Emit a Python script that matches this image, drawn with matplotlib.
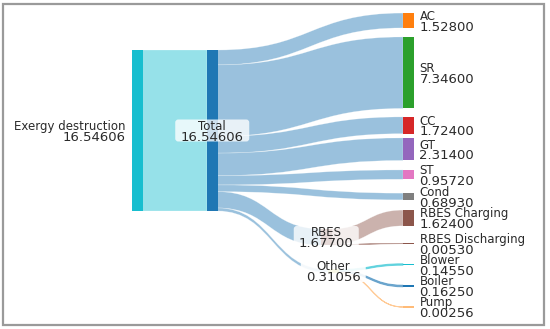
import matplotlib
matplotlib.use("Agg")
import matplotlib.pyplot as plt
from matplotlib.path import Path
from matplotlib.patches import PathPatch, Rectangle, FancyBboxPatch

# ---------------- data ----------------
node_names = ["Exergy destruction", "Total", "AC", "SR", "CC", "GT", "ST", "Cond",
              "RBES Charging", "RBES Discharging", "Blower", "Boiler", "Pump",
              "RBES", "Other"]
node_values = [16.54606, 16.54606, 1.528, 7.346, 1.724, 2.314, 0.9572, 0.6893,
               1.624, 0.0053, 0.1455, 0.1625, 0.00256, 1.677, 0.31056]
node_colors = ["#17becf", "#1f77b4", "#ff7f0e", "#2ca02c", "#d62728", "#9467bd",
               "#e377c2", "#7f7f7f", "#8c564b", "#8c564b", "#17becf", "#1f77b4",
               "#ffbb78", "#8c564b", "#bcbd22"]

link_source = ["Exergy destruction", "Total", "Total", "Total", "Total", "Total",
               "Total", "Total", "Total", "RBES", "RBES", "Other", "Other", "Other"]
link_target = ["Total", "AC", "SR", "CC", "GT", "ST", "Cond", "RBES", "Other",
               "RBES Charging", "RBES Discharging", "Blower", "Boiler", "Pump"]
link_values = [16.54606, 1.528, 7.346, 1.724, 2.314, 0.9572, 0.6893, 1.677, 0.31056,
               1.624, 0.0053, 0.1455, 0.1625, 0.00256]
link_colors = ["#17becf", "#1f77b4", "#1f77b4", "#1f77b4", "#1f77b4", "#1f77b4",
               "#1f77b4", "#1f77b4", "#1f77b4", "#8c564b", "#8c564b", "#17becf",
               "#1f77b4", "#ffa040"]

# ---------------- layout (pixel-like canvas) ----------------
W, H = 550, 329
node_x = [132, 207, 403, 403, 403, 403, 403, 403, 403, 403, 403, 403, 403, 321, 328]
node_yc = [130.5, 130.5, 20.5, 72.7, 125.3, 149.2, 174.6, 196.5, 218.0, 243.5,
           264.5, 286.0, 307.0, 237.0, 271.0]
node_w = 10.5
scale = 161.0 / 16.54606  # px per unit

label_mode = ["left", "box", "right", "right", "right", "right", "right", "right",
              "right", "right", "right", "right", "right", "box", "box_clear"]

fig = plt.figure(figsize=(W / 100, H / 100), dpi=100)
ax = fig.add_axes([0, 0, 1, 1])
ax.set_xlim(0, W)
ax.set_ylim(H, 0)
ax.axis("off")

idx = {n: i for i, n in enumerate(node_names)}
tops = [node_yc[i] - node_values[i] * scale / 2 for i in range(len(node_names))]
out_off = [0.0] * len(node_names)
in_off = [0.0] * len(node_names)


def ribbon(x0, y0a, y0b, x1, y1a, y1b, color, alpha):
    xm = (x0 + x1) / 2
    verts = [(x0, y0a), (xm, y0a), (xm, y1a), (x1, y1a), (x1, y1b),
             (xm, y1b), (xm, y0b), (x0, y0b), (x0, y0a)]
    codes = [Path.MOVETO, Path.CURVE4, Path.CURVE4, Path.CURVE4, Path.LINETO,
             Path.CURVE4, Path.CURVE4, Path.CURVE4, Path.CLOSEPOLY]
    thin = abs(y0b - y0a) < 2.5
    if thin:
        patch = PathPatch(Path(verts, codes), facecolor=color, alpha=alpha,
                          edgecolor=color, lw=0.7, zorder=1)
    else:
        patch = PathPatch(Path(verts, codes), facecolor=color, alpha=alpha,
                          edgecolor="white", lw=0.35, zorder=1)
    ax.add_patch(patch)


for s, t, v, c in zip(link_source, link_target, link_values, link_colors):
    si, ti = idx[s], idx[t]
    h = v * scale
    y0a = tops[si] + out_off[si]
    y1a = tops[ti] + in_off[ti]
    out_off[si] += h
    in_off[ti] += h
    a = 0.45 if h > 2.5 else 0.55
    ribbon(node_x[si] + node_w, y0a, y0a + h, node_x[ti], y1a, y1a + h, c, a)

# nodes
for i, n in enumerate(node_names):
    h = max(node_values[i] * scale, 1.2)
    ax.add_patch(Rectangle((node_x[i], node_yc[i] - h / 2), node_w, h,
                           facecolor=node_colors[i], edgecolor="none", zorder=2))

# labels
txt_col = "#2a2a2a"
fs_name, fs_val = 8.5, 9.5
px = 100 / 72.0


def two_line(x, yc, name, val, ha):
    cap_n = 0.73 * fs_name * px
    cap_v = 0.73 * fs_val * px
    ax.text(x, yc - 5.0 + cap_n / 2, name, ha=ha, va="baseline", fontsize=fs_name,
            color=txt_col, family="DejaVu Sans", zorder=5)
    ax.text(x, yc + 5.3 + cap_v / 2, val, ha=ha, va="baseline", fontsize=fs_val,
            color=txt_col, family="DejaVu Sans", zorder=5)


for i, n in enumerate(node_names):
    val = f"{node_values[i]:.5f}"
    yc = node_yc[i]
    mode = label_mode[i]
    if mode == "left":
        two_line(node_x[i] - 6, yc, n, val, "right")
    elif mode == "right":
        two_line(node_x[i] + node_w + 6, yc, n, val, "left")
    else:
        cx = node_x[i] + node_w / 2
        bw = 74 if node_values[i] >= 10 else 65
        bh = 22
        face = (1, 1, 1, 0.78) if mode == "box" else (1, 1, 1, 0.9)
        ax.add_patch(FancyBboxPatch((cx - bw / 2 + 3, yc - bh / 2 + 3), bw - 6, bh - 6,
                                    boxstyle="round,pad=3,rounding_size=3",
                                    facecolor=face, edgecolor="none", zorder=4))
        two_line(cx, yc, n, val, "center")

# frame
ax.add_patch(Rectangle((3, 4), 541, 321, facecolor="none", edgecolor="#9a9a9a",
                       lw=1.6, zorder=6))

fig.savefig("out.png", dpi=100)
